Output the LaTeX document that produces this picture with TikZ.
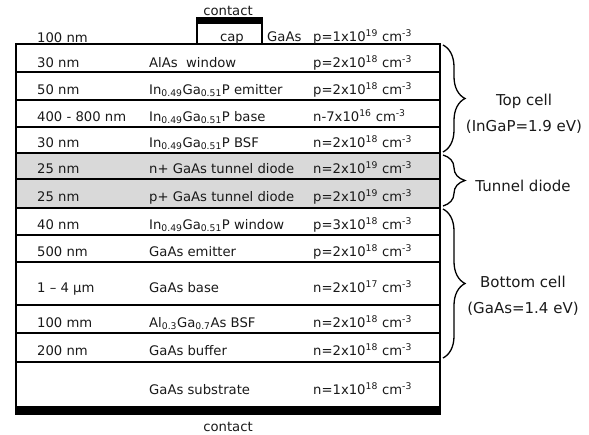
\documentclass[tikz,border=0pt]{standalone}
\usepackage{fontspec}
\setmainfont{DejaVu Sans}
\usetikzlibrary{decorations.pathreplacing}
\begin{document}
\begin{tikzpicture}[x=1pt,y=-1pt,
  txt/.style={anchor=base west, inner sep=0pt, font=\fontsize{13.2}{15}\selectfont, text=black!90},
  ctxt/.style={anchor=base, inner sep=0pt, font=\fontsize{13.2}{15}\selectfont, text=black!90},
  side/.style={anchor=base, inner sep=0pt, font=\fontsize{15}{18}\selectfont, text=black!90},
  layerbox/.style={draw=black, line width=1.6pt},
  thickline/.style={draw=black, line width=2.3pt},
  graylayer/.style={fill=black!15},
  bracestyle/.style={draw=black, line width=1.3pt, decorate, decoration={brace, amplitude=22pt}}]
\useasboundingbox (0,0) rectangle (589,434);
% gray tunnel layers
\fill[graylayer] (16,153) rectangle (440,208);
% layers
\foreach \t/\b in {44/72,72/100,100/127,127/153,153/179,179/208,208/235,235/262,262/305,305/333,333/362,362/407}
  \draw[layerbox] (16,\t) rectangle (440,\b);
\foreach \y in {127,208,305} \draw[thickline] (16,\y) -- (440,\y);
% bottom contact
\fill (15.2,407) rectangle (440.8,415);
% cap and top contact
\fill[white] (197,23) rectangle (262,43);
\draw[line width=1.8pt] (197,44) -- (197,23) -- (262,23) -- (262,44);
\fill (196.1,17) rectangle (262.9,23.5);
\node[ctxt] (contacttop) at (228,15) {contact};
\node[ctxt] (cap) at (232,41) {cap};
\node[txt] (capmat) at (267,41) {GaAs};
\node[txt] (capdop) at (313,41) {p=1x10\textsuperscript{19} cm\textsuperscript{-3}};
\node[txt] (capthk) at (37,42) {100 nm};
% rows
\node[txt] (t1) at (37,67) {30 nm};
\node[txt] (m1) at (149,67) {AlAs\ \ window};
\node[txt] (d1) at (313,67) {p=2x10\textsuperscript{18} cm\textsuperscript{-3}};
\node[txt] (t2) at (37,94) {50 nm};
\node[txt] (m2) at (149,94) {In\textsubscript{0.49}Ga\textsubscript{0.51}P emitter};
\node[txt] (d2) at (313,94) {p=2x10\textsuperscript{18} cm\textsuperscript{-3}};
\node[txt] (t3) at (37,121) {400 - 800 nm};
\node[txt] (m3) at (149,121) {In\textsubscript{0.49}Ga\textsubscript{0.51}P base};
\node[txt] (d3) at (313,121) {n-7x10\textsuperscript{16} cm\textsuperscript{-3}};
\node[txt] (t4) at (37,147) {30 nm};
\node[txt] (m4) at (149,147) {In\textsubscript{0.49}Ga\textsubscript{0.51}P BSF};
\node[txt] (d4) at (313,147) {n=2x10\textsuperscript{18} cm\textsuperscript{-3}};
\node[txt] (t5) at (37,173) {25 nm};
\node[txt] (m5) at (149,173) {n+ GaAs tunnel diode};
\node[txt] (d5) at (313,173) {n=2x10\textsuperscript{19} cm\textsuperscript{-3}};
\node[txt] (t6) at (37,201) {25 nm};
\node[txt] (m6) at (149,201) {p+ GaAs tunnel diode};
\node[txt] (d6) at (313,201) {p=2x10\textsuperscript{19} cm\textsuperscript{-3}};
\node[txt] (t7) at (37,229) {40 nm};
\node[txt] (m7) at (149,229) {In\textsubscript{0.49}Ga\textsubscript{0.51}P window};
\node[txt] (d7) at (313,229) {p=3x10\textsuperscript{18} cm\textsuperscript{-3}};
\node[txt] (t8) at (37,256) {500 nm};
\node[txt] (m8) at (149,256) {GaAs emitter};
\node[txt] (d8) at (313,256) {p=2x10\textsuperscript{18} cm\textsuperscript{-3}};
\node[txt] (t9) at (37,292) {1 – 4 µm};
\node[txt] (m9) at (149,292) {GaAs base};
\node[txt] (d9) at (313,292) {n=2x10\textsuperscript{17} cm\textsuperscript{-3}};
\node[txt] (t10) at (37,327) {100 mm};
\node[txt] (m10) at (149,327) {Al\textsubscript{0.3}Ga\textsubscript{0.7}As BSF};
\node[txt] (d10) at (313,327) {n=2x10\textsuperscript{18} cm\textsuperscript{-3}};
\node[txt] (t11) at (37,355) {200 nm};
\node[txt] (m11) at (149,355) {GaAs buffer};
\node[txt] (d11) at (313,355) {n=2x10\textsuperscript{18} cm\textsuperscript{-3}};
\node[txt] (m12) at (149,394) {GaAs substrate};
\node[txt] (d12) at (313,394) {n=1x10\textsuperscript{18} cm\textsuperscript{-3}};
\node[ctxt] (contactbot) at (228,431) {contact};
% braces
\coordinate (topA) at (443,45);
\coordinate (topB) at (443,152);
\coordinate (tunA) at (443,155);
\coordinate (tunB) at (443,206);
\coordinate (botA) at (443,209);
\coordinate (botB) at (443,358);
\draw[bracestyle] (topA) -- (topB);
\draw[bracestyle] (tunA) -- (tunB);
\draw[bracestyle] (botA) -- (botB);
\node[side] (topcell) at (524,105) {Top cell};
\node[side] (topgap) at (524,131) {(InGaP=1.9 eV)};
\node[side] (tunnel) at (523,191) {Tunnel diode};
\node[side] (botcell) at (523,287) {Bottom cell};
\node[side] (botgap) at (523,313) {(GaAs=1.4 eV)};
\end{tikzpicture}
\end{document}
